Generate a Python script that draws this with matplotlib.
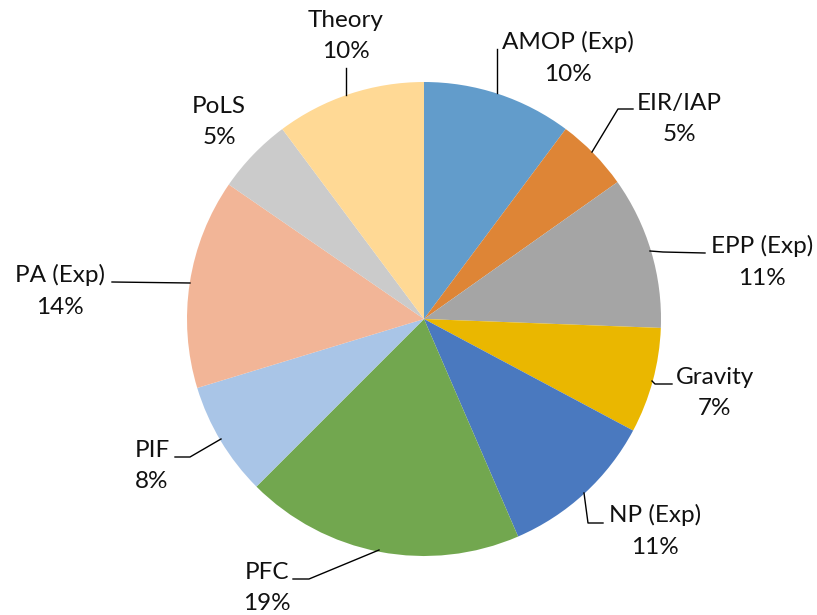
import matplotlib
matplotlib.use("Agg")
import matplotlib.pyplot as plt

categories = ["AMOP (Exp)", "EIR/IAP", "EPP (Exp)", "Gravity", "NP (Exp)",
              "PFC", "PIF", "PA (Exp)", "PoLS", "Theory"]
values = [10.2, 5.0, 10.4, 7.2, 10.7, 19.0, 7.8, 14.3, 5.2, 10.2]
pct_labels = ["10%", "5%", "11%", "7%", "11%", "19%", "8%", "14%", "5%", "10%"]
colors = ["#629CCB", "#DE8536", "#A5A5A5", "#EAB700", "#4A79BF",
          "#72A74F", "#A9C5E7", "#F2B597", "#CBCBCB", "#FFD995"]

W, H = 817, 615
fig = plt.figure(figsize=(W / 100, H / 100), dpi=100)
ax = fig.add_axes([0, 0, 1, 1])

cx, cy, R = 424, H - 319, 237
ax.pie(values, colors=colors, startangle=90, counterclock=False,
       center=(cx, cy), radius=R, frame=True,
       wedgeprops=dict(linewidth=0))
ax.set_xlim(0, W)
ax.set_ylim(0, H)
ax.set_aspect("equal")
ax.axis("off")

# label centres (pixels from top-left)
label_pos = [(568, 58), (679, 119), (762, 262), (715, 393), (655, 531),
             (267, 588), (152, 466), (60, 291), (219, 122), (346, 36)]
# leader line polylines (pixels from top-left)
leaders = [
    [(497, 49), (497, 93)],
    [(633, 109), (618, 109), (592, 152)],
    [(705, 253), (663, 252), (650, 251)],
    [(672, 384), (655, 384), (652, 381)],
    [(603, 523), (588, 523), (584, 493)],
    [(293, 579), (309, 579), (379, 550)],
    [(175, 457), (190, 457), (221, 439)],
    [(112, 282), (190, 283)],
    None,
    [(346, 68), (346, 95)],
]

for name, pct, (x, y), ld in zip(categories, pct_labels, label_pos, leaders):
    ax.text(x, H - y, f"{name}\n{pct}", ha="center", va="center",
            fontsize=17.5, family=["Lato", "DejaVu Sans"], color="#111111",
            linespacing=1.6)
    if ld:
        xs = [p[0] for p in ld]
        ys = [H - p[1] for p in ld]
        ax.plot(xs, ys, color="black", lw=1)

fig.savefig("out.png", dpi=100)
